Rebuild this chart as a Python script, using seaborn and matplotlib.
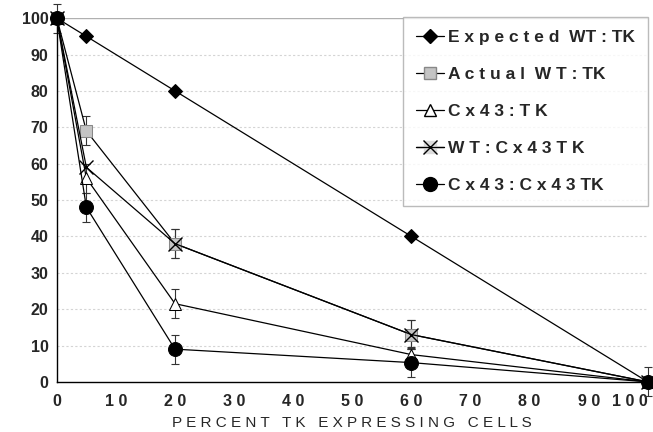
import seaborn as sns
import pandas as pd
import numpy as np
import matplotlib.pyplot as plt
from matplotlib.legend_handler import HandlerTuple
from matplotlib.lines import Line2D

pct = [0, 5, 20, 60, 100]
expected = [100, 95, 80, 40, 0]
actual = [100, 69, 38, 13, 0]
cx43_tk = [100, 56, 21.5, 7.5, 0]
wt_cx43 = [100, 59, 38, 13, 0]
cx43_cx43 = [100, 48, 9, 5.3, 0]

err_actual = [4, 4, 4, 4, 0]
err_cx43_tk = [0, 4, 4, 2, 0]
err_wt_cx43 = [0, 0, 4, 4, 4]
err_cx43_cx43 = [0, 4, 4, 4, 0]

x_ticks = [0, 10, 20, 30, 40, 50, 60, 70, 80, 90, 100]
y_ticks = [0, 10, 20, 30, 40, 50, 60, 70, 80, 90, 100]

sns.set_style('white')
plt.rcParams['font.family'] = ['Liberation Sans', 'DejaVu Sans']

fig = plt.figure(figsize=(6.53, 4.32), dpi=100)
ax = fig.add_axes([0.087, 0.116, 0.905, 0.842])

for y in y_ticks[1:-1]:
    ax.axhline(y, color='#d4d4d4', lw=0.8, ls=(0, (2, 2)), zorder=0)
ax.axhline(100, color='#b0b0b0', lw=1.0, zorder=0)

def spaced(s):
    return ' '.join(s)

# error bars first
for vals, err in [(actual, err_actual), (cx43_tk, err_cx43_tk),
                  (wt_cx43, err_wt_cx43), (cx43_cx43, err_cx43_cx43)]:
    e = np.array(err, dtype=float)
    m = e > 0
    ax.errorbar(np.array(pct)[m], np.array(vals)[m], yerr=e[m], fmt='none',
                ecolor='#333333', elinewidth=0.8, capsize=3, capthick=0.8,
                zorder=2, clip_on=False)

series = [
    ('Expected WT:TK', expected, dict(marker='D', markersize=7.5, markerfacecolor='black', markeredgecolor='black')),
    ('Actual WT:TK', actual, dict(marker='s', markersize=9, markerfacecolor='#c4c4c4', markeredgecolor='#888888')),
    ('Cx43:TK', cx43_tk, dict(marker='^', markersize=9, markerfacecolor='white', markeredgecolor='black')),
    ('WT:Cx43TK', wt_cx43, dict(marker='x', markersize=10, markeredgecolor='black', markeredgewidth=1.0)),
    ('Cx43:Cx43TK', cx43_cx43, dict(marker='o', markersize=10, markerfacecolor='black', markeredgecolor='black')),
]

for name, vals, kw in series:
    df = pd.DataFrame({'pct': pct, 'val': vals})
    sns.lineplot(data=df, x='pct', y='val', ax=ax, color='black', lw=0.9,
                 clip_on=False, zorder=3, **kw)

ax.set_xlim(0, 100)
ax.set_ylim(0, 100)
ax.set_xticks(x_ticks)
ax.set_xticklabels([spaced(str(t)) for t in x_ticks], fontsize=11.5, fontweight='bold')
ax.set_yticks(y_ticks)
ax.set_yticklabels([str(t) for t in y_ticks], fontsize=11.5, fontweight='bold')
ax.get_xticklabels()[-1].set_ha('right')
ax.tick_params(axis='x', direction='out', length=4, width=0.8, pad=5)
ax.tick_params(axis='y', direction='out', length=0, pad=6)
ax.set_xlabel('P E R C E N T   T K   E X P R E S S I N G   C E L L S', fontsize=11, labelpad=5)
ax.set_ylabel('')

for s in ['top', 'right']:
    ax.spines[s].set_visible(False)
for s in ['left', 'bottom']:
    ax.spines[s].set_color('black')
    ax.spines[s].set_linewidth(1.0)

# legend
h_exp = Line2D([], [], color='black', lw=0.9, **series[0][2])
h_act = Line2D([], [], color='black', lw=0.9, **series[1][2])
h_tri = Line2D([], [], color='black', lw=0.9, **series[2][2])
h_bg = Line2D([], [], color='black', lw=0.9, marker='s', markersize=9,
              markerfacecolor='#dcdcdc', markeredgecolor='#dcdcdc')
h_x = Line2D([], [], color='black', lw=0.9, **series[3][2])
h_dot = Line2D([], [], color='black', lw=0.9, **series[4][2])
labels = ['E x p e c t e d  WT : TK', 'A c t u a l  W T : TK', 'C x 4 3 : T K',
          'W T : C x 4 3 T K', 'C x 4 3 : C x 4 3 TK']
leg = ax.legend([h_exp, h_act, h_tri, (h_bg, h_x), h_dot], labels,
                handler_map={tuple: HandlerTuple(ndivide=1, pad=0)},
                loc='upper left', bbox_to_anchor=(0.586, 1.003),
                prop={'weight': 'bold', 'size': 12.5},
                frameon=True, fancybox=False, edgecolor='#aaaaaa',
                handlelength=1.6, handletextpad=0.25, labelspacing=1.25,
                borderpad=0.75, borderaxespad=0)
leg.get_frame().set_linewidth(1.0)
leg.set_zorder(5)

fig.savefig('out.png', dpi=100)
